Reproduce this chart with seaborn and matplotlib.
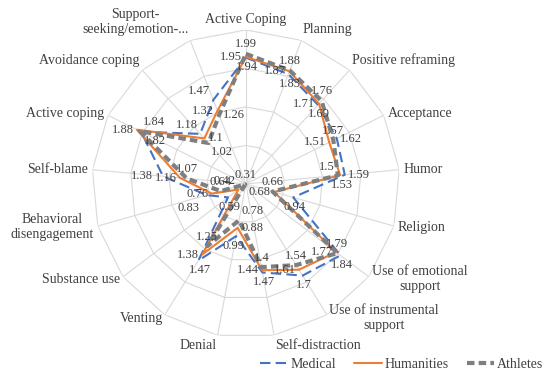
import numpy as np
import pandas as pd
import matplotlib
matplotlib.use('Agg')
import matplotlib.pyplot as plt
import seaborn as sns

sns.set_style('white')
plt.rcParams['font.family'] = ['Liberation Serif', 'DejaVu Serif']

categories = ['Active Coping', 'Planning', 'Positive reframing', 'Acceptance', 'Humor',
              'Religion', 'Use of emotional\nsupport', 'Use of instrumental\nsupport',
              'Self-distraction', 'Denial', 'Venting', 'Substance use',
              'Behavioral\ndisengagement', 'Self-blame', 'Active coping',
              'Avoidance coping', 'Support-\nseeking/emotion-...']
medical = [1.94, 1.83, 1.69, 1.62, 1.59, 0.94, 1.84, 1.7, 1.47, 0.99, 1.47, 0.59, 0.83, 1.38, 1.82, 1.18, 1.47]
humanities = [1.95, 1.87, 1.71, 1.51, 1.53, 0.68, 1.77, 1.61, 1.44, 0.88, 1.38, 0.42, 0.76, 1.16, 1.88, 1.1, 1.32]
athletes = [1.99, 1.88, 1.76, 1.57, 1.5, 0.66, 1.79, 1.54, 1.4, 0.78, 1.25, 0.31, 0.64, 1.07, 1.84, 1.02, 1.26]
groups = ['Medical', 'Humanities', 'Athletes']
colors = {'Medical': '#4472C4', 'Humanities': '#ED7D31', 'Athletes': '#7F7F7F'}

n = len(categories)
theta = np.linspace(0, 2 * np.pi, n, endpoint=False)
rmin, rmax = 0.3, 2.3
rings = [0.8, 1.3, 1.8, 2.3]

# long table, first point repeated to close each polygon
rows = []
for g, vals in zip(groups, [medical, humanities, athletes]):
    for i in range(n + 1):
        rows.append({'group': g, 'theta': theta[i % n] if i < n else 2 * np.pi,
                     'value': vals[i % n]})
df = pd.DataFrame(rows)

fig = plt.figure(figsize=(5.5, 3.84), dpi=100)
ax = fig.add_axes([0.167, 0.12, 0.56, 0.802], projection='polar')
ax.set_theta_zero_location('N')
ax.set_theta_direction(-1)

sns.lineplot(data=df, x='theta', y='value', hue='group', style='group',
             hue_order=groups, style_order=groups, palette=colors,
             dashes={'Medical': (5, 2.5), 'Humanities': '', 'Athletes': (1.8, 1)},
             sort=False, estimator=None, legend=False, ax=ax, zorder=3)
data_lines = list(ax.lines)
for line, lw in zip(data_lines, [1.5, 1.5, 3.0]):
    line.set_linewidth(lw)

# polygon grid and spokes
closed = np.append(theta, 2 * np.pi)
for r in rings:
    ax.plot(closed, [r] * (n + 1), color='#D9D9D9', lw=0.8, zorder=1)
for t in theta:
    ax.plot([t, t], [rmin, rmax], color='#D9D9D9', lw=0.8, zorder=1)

ax.set_ylim(rmin, rmax)
ax.grid(False)
ax.set_xticks([])
ax.set_yticks([])
ax.spines['polar'].set_visible(False)
ax.set_xlabel('')
ax.set_ylabel('')

# category labels just outside outer vertices
for t, lab in zip(theta, categories):
    s, c = np.sin(t), np.cos(t)
    ha = 'left' if s > 0.1 else ('right' if s < -0.1 else 'center')
    va = 'bottom' if c > 0.7 else ('top' if c < -0.9 else 'center')
    ax.annotate(lab, xy=(t, rmax), xytext=(3 * s, 3 * c), textcoords='offset points',
                ha=ha, va=va, fontsize=10, color='#404040', multialignment='center',
                annotation_clip=False)

# value labels: default side per series, a few moved like in the source
above = ((0, 2.5), 'center', 'bottom')
left = ((-2.5, 0), 'right', 'center')
below = ((1, -2.5), 'center', 'top')
right = ((2.5, 0), 'left', 'center')
upleft = ((-2, 2), 'right', 'bottom')
upright = ((2, 2), 'left', 'bottom')
downright = ((2, -2), 'left', 'top')
downleft = ((-2, -2), 'right', 'top')
default_pos = {'Athletes': above, 'Humanities': left, 'Medical': below}
moved = {('Medical', 3): right, ('Medical', 4): right, ('Medical', 13): ((-7, 0), 'right', 'center'),
         ('Medical', 14): downright, ('Medical', 15): upleft, ('Medical', 16): upleft,
         ('Athletes', 14): upright, ('Athletes', 15): downright, ('Athletes', 16): right,
         ('Humanities', 15): right, ('Athletes', 4): upleft, ('Humanities', 4): below,
         ('Humanities', 9): right, ('Athletes', 9): upright, ('Medical', 9): ((-2, -2.5), 'center', 'top'),
         ('Humanities', 11): upleft, ('Medical', 11): below,
         ('Medical', 12): ((-5, -5), 'right', 'top')}
for g, vals in zip(groups, [medical, humanities, athletes]):
    for i, (t, v) in enumerate(zip(theta, vals)):
        off, ha, va = moved.get((g, i), default_pos[g])
        ax.annotate(f'{v:g}', xy=(t, v), xytext=off, textcoords='offset points',
                    ha=ha, va=va, fontsize=9, color='#404040', zorder=4)

fig.legend(data_lines, groups, loc='center', bbox_to_anchor=(0.73, 0.05), ncol=3,
           frameon=False, handlelength=2.0, columnspacing=1.3, handletextpad=0.2,
           fontsize=10, labelcolor='#404040')

fig.savefig('out.png', dpi=100)
